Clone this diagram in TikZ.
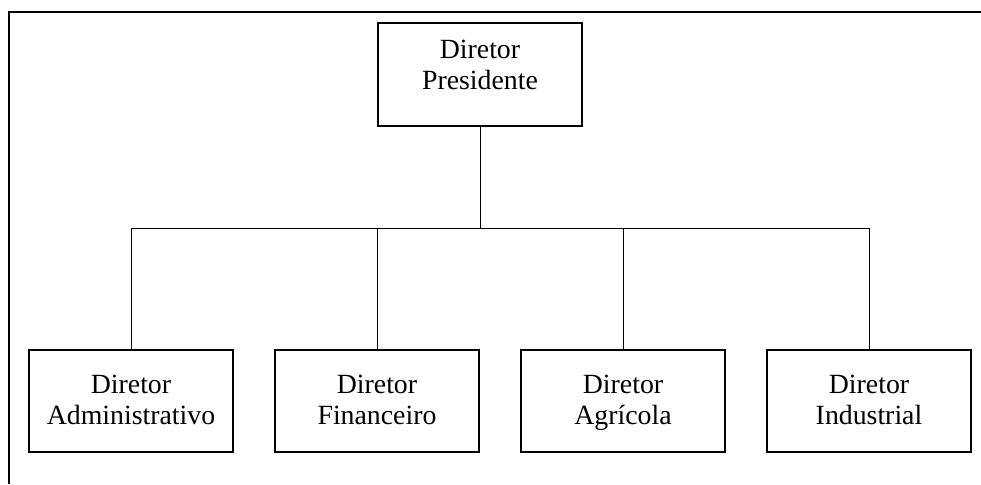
\documentclass[tikz,border=0pt]{standalone}
\usepackage{fontspec}
\setmainfont{Liberation Serif}
\usetikzlibrary{positioning}

\begin{document}
\begin{tikzpicture}[x=1pt,y=1pt,node distance=40.8pt]
        \tikzstyle{diretor}=[rectangle,draw,line width=1.2pt,minimum width=204pt,inner sep=0pt,align=center,font=\fontsize{27.8}{31}\selectfont]
        \tikzstyle{area}=[diretor,text height=74pt,text depth=28pt]
        \tikzstyle{ligacao}=[line width=1pt]

        \useasboundingbox (0,0) rectangle (981,-484);
        \draw [line width=1.8pt] (981,-12) -- (9,-12) -- (9,-484); %moldura

        \node [diretor,text height=67pt,text depth=36pt] (pres) at (480,-74.5) {Diretor\\Presidente}; %topo
        \node [area] (adm) at (131,-401) {Diretor\\Administrativo};
        \node [area] (fin) [right=of adm] {Diretor\\Financeiro};
        \node [area] (agr) [right=of fin] {Diretor\\Agr\'icola};
        \node [area] (ind) [right=of agr] {Diretor\\Industrial};

        \coordinate (bus) at (pres.south |- 0,-228); %barra
        \draw [ligacao] (pres.south) -- (bus);
        \foreach \d in {adm,fin,agr,ind}
            \draw [ligacao] (bus) -| (\d.north);
\end{tikzpicture}
\end{document}
